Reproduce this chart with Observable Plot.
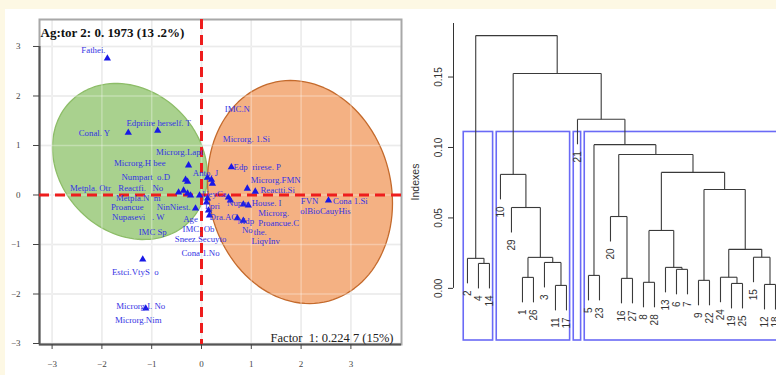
<!DOCTYPE html>
<html><head><meta charset="utf-8">
<script src="https://cdn.jsdelivr.net/npm/d3@7"></script>
<script src="https://cdn.jsdelivr.net/npm/@observablehq/plot@0.6"></script>
<style>
html,body{margin:0;padding:0;background:#fdf8e4;}
#wrap{position:relative;width:776px;height:375px;overflow:hidden;}
#panel{position:absolute;left:5px;top:9px;right:0;bottom:0;background:#fff;}
#left{position:absolute;left:0;top:0;}
#right{position:absolute;left:400px;top:0;width:376px;height:375px;overflow:hidden;}
</style></head><body>
<div id="wrap"><div id="panel"></div><div id="left"></div><div id="right"></div></div>
<script>
// ---------- factor map data ----------
const pointX = [-1.89,-1.47,-0.88,-0.26,-0.32,-0.28,0.12,0.20,0.22,-0.46,-0.36,-0.28,-0.22,-0.04,0.12,0.10,-0.12,0.14,0.16,0.54,0.58,0.72,0.84,0.60,0.92,1.08,0.84,0.94,2.55,-1.18,-1.12];
const pointY = [2.76,1.26,1.30,0.60,0.31,0.27,0.35,0.31,0.23,0.05,0.09,0.03,-0.01,-0.01,-0.07,-0.15,-0.27,-0.31,-0.41,-0.05,-0.11,-0.47,-0.52,0.56,0.13,0.07,-0.19,-0.21,-0.11,-1.30,-2.29];

const labelText = ["Fathei.","Conal. Y","Edpriire herself. T","Microrg.Lapt","Microrg.H bee","Numpart  o.D","Anto. J",
  "Metpla. Otr","Reactfi.   No","Metpla.N  m","Proancue","NinNiest.","Nupasevi   . W","IMC Sp","Age","IMC. Ob",
  "Sneez.Secuyto","Cona 1.No","Estci.VtyS  o","Microrg.I. No","Microrg.Nim","UeyCa","Lpri","Dra.AC","Mdp","No",
  "IMC.N","Microrg. 1.Si","Edp  rirese. P","Microrg.FMN","Reactti.Si","Nupas House. I","Microrg.","Proancue.C",
  "the.","LiqvInv","FVN","olBioCauyHis","Cona 1.Si"];
const labelX = [-2.17,-2.15,-0.86,-0.44,-1.24,-1.12,0.08,-2.23,-1.22,-1.27,-1.49,-0.56,-1.27,-0.98,-0.22,-0.06,
  -0.02,-0.02,-1.33,-1.22,-1.27,0.26,0.22,0.44,0.89,0.92,0.72,0.90,1.12,1.49,1.53,1.06,1.45,1.55,1.18,1.29,2.17,2.49,2.99];
const labelY = [2.92,1.24,1.46,0.86,0.64,0.37,0.45,0.13,0.13,-0.06,-0.25,-0.25,-0.44,-0.76,-0.49,-0.69,
  -0.89,-1.18,-1.55,-2.25,-2.52,0.01,-0.23,-0.44,-0.53,-0.71,1.73,1.12,0.56,0.29,0.09,-0.17,-0.37,-0.56,-0.76,-0.94,-0.13,-0.33,-0.13];

const xTicks = [-3,-2,-1,0,1,2,3];
const yTicks = [-3,-2,-1,0,1,2,3];
const axisTitleY = "Ag:tor 2: 0. 1973 (13 .2%)";
const axisTitleX = "Factor  1: 0.224 7 (15%)";

// confidence ellipses (centre, semi-extents, correlation)
const ellipseCx = [-1.436, 1.978];
const ellipseCy = [0.677, 0.06];
const ellipseAx = [1.556, 1.857];
const ellipseAy = [1.576, 2.253];
const ellipseRho = [-0.18, -0.10];
const ellipseFill = ["#a9d18e", "#f4b183"];
const ellipseStroke = ["#8dbd68", "#c46a2c"];

// ---------- dendrogram data ----------
const leafOrder = [2,4,14,10,29,1,26,3,11,17,21,5,23,20,16,27,8,28,13,6,7,9,22,24,19,25,15,12,18];
// R hclust style merges: negative = leaf label, positive = earlier merge row (1-based)
const mergeLeft  = [-11,-19,-12,-8,-9,-16,-1,-24,-5,-6,-13,-3,-4,-2, 7,-15, 8, 4,-20,-29, 5,-10,18,19, 9,-21,22,14];
const mergeRight = [-17,-25,-18,-28,-22,-27,-26, 2,-23,-7, 10, 1,-14,13,12,  3,16,11,  6, 15,17, 20,21,23,24, 25,26,27];
const mergeHeight = [0.0021,0.0035,0.0028,0.0043,0.0057,0.0071,0.0078,0.0079,0.0092,0.0135,0.0149,0.0184,0.0177,0.0213,
  0.0220,0.0221,0.0277,0.0411,0.0510,0.0574,0.0702,0.0809,0.0823,0.0950,0.1020,0.1200,0.1525,0.1794];
const clusterSizes = [3, 7, 1, 18];
const dendroTicks = [0, 0.05, 0.10, 0.15];
const dendroYLabel = "Indexes";

// ---------- left: factor map ----------
const xDom = [-3.253, 4.016], yDom = [-3.02, 3.545];
const points = pointX.map((x, i) => ({x, y: pointY[i]}));
const labels = labelText.map((t, i) => ({t, x: labelX[i], y: labelY[i]}));
function ellipse(k) {
  const r = ellipseRho[k], s = Math.sqrt(1 - r * r);
  return d3.range(0, 360, 3).map(a => {
    const t = a * Math.PI / 180;
    return {x: ellipseCx[k] + ellipseAx[k] * Math.cos(t),
            y: ellipseCy[k] + ellipseAy[k] * (r * Math.cos(t) + s * Math.sin(t))};
  });
}
const serif = "'Liberation Serif','Times New Roman',serif";
const left = Plot.plot({
  width: 402, height: 375, marginLeft: 39, marginRight: 1, marginTop: 19, marginBottom: 31,
  style: {background: "transparent", fontFamily: serif, color: "#444", overflow: "visible"},
  x: {domain: xDom, label: null}, y: {domain: yDom, label: null},
  marks: [
    Plot.ruleX(xTicks, {stroke: "#e3e3e3", strokeWidth: 1.5}),
    Plot.ruleY(yTicks, {stroke: "#e3e3e3", strokeWidth: 1.5}),
    ...[0, 1].map(k => Plot.line(ellipse(k), {x: "x", y: "y", fill: ellipseFill[k], stroke: ellipseStroke[k], strokeWidth: 1.3, curve: "linear-closed"})),
    Plot.ruleX(xTicks, {stroke: "#ffffff", strokeOpacity: 0.3, strokeWidth: 1.5}),
    Plot.ruleY(yTicks, {stroke: "#ffffff", strokeOpacity: 0.3, strokeWidth: 1.5}),
    Plot.frame({stroke: "#a8a8a8", strokeWidth: 2}),
    Plot.ruleX([xDom[0]], {y1: 3, y2: yDom[0], stroke: "#555", strokeWidth: 2}),
    Plot.ruleY([yDom[0]], {stroke: "#555", strokeWidth: 2}),
    Plot.ruleX([0], {stroke: "#ee1d1d", strokeWidth: 3, strokeDasharray: "10,6"}),
    Plot.ruleY([0], {stroke: "#ee1d1d", strokeWidth: 3, strokeDasharray: "10,6"}),
    Plot.axisX({ticks: xTicks, tickSize: 5, tickPadding: 11, fontSize: 9, tickFormat: d3.format("d"), label: null}),
    Plot.axisY({ticks: yTicks, tickSize: 6, tickPadding: 13, fontSize: 9, tickFormat: d3.format("d"), label: null}),
    Plot.dot(points, {x: "x", y: "y", symbol: "triangle", r: 2.7, fill: "#1818e6"}),
    Plot.text(labels, {x: "x", y: "y", text: "t", fill: "#3434e4", fontSize: 8.8, lineAnchor: "middle"}),
    Plot.text([axisTitleY], {frameAnchor: "top-left", dx: 1, dy: 13, textAnchor: "start", lineAnchor: "middle", fontWeight: "bold", fontSize: 13, fill: "#111"}),
    Plot.text([axisTitleX], {frameAnchor: "bottom-right", dx: -8, dy: -7, textAnchor: "end", lineAnchor: "middle", fontSize: 12.5, fill: "#222"})
  ]
});
document.getElementById("left").append(left);

// ---------- right: dendrogram ----------
const leafPos = new Map(leafOrder.map((l, i) => [l, i + 1]));
const hang = 0.1 * (d3.max(mergeHeight) - d3.min(mergeHeight));
const nodeX = [], segs = [], leafEnds = [];
mergeLeft.forEach((a, k) => {
  const b = mergeRight[k], h = mergeHeight[k];
  const child = c => c < 0 ? {x: leafPos.get(-c), y: h - hang, leaf: -c} : {x: nodeX[c - 1], y: mergeHeight[c - 1]};
  const A = child(a), B = child(b);
  nodeX[k] = (A.x + B.x) / 2;
  segs.push({x1: A.x, y1: A.y, x2: A.x, y2: h}, {x1: B.x, y1: B.y, x2: B.x, y2: h}, {x1: A.x, y1: h, x2: B.x, y2: h});
  [A, B].forEach(c => { if (c.leaf != null) leafEnds.push({x: c.x, y: c.y, label: String(c.leaf)}); });
});
const sortedH = [...mergeHeight].sort((p, q) => q - p);
const kClusters = clusterSizes.length;
const boxTop = (sortedH[kClusters - 2] + sortedH[kClusters - 1]) / 2;
const dxDom = [-0.27, 29], dyDom = [-0.037, 0.188];
let cum = 0;
const boxes = clusterSizes.map(s => { const b = {x1: cum + 0.66, x2: cum + s + 0.33}; cum += s; return b; });
const sans = "'Liberation Sans',Arial,sans-serif";
const right = Plot.plot({
  width: 376, height: 375, marginLeft: 53, marginRight: 1, marginTop: 23, marginBottom: 35,
  style: {background: "transparent", fontFamily: sans, color: "#333"},
  x: {domain: dxDom, axis: null}, y: {domain: dyDom, label: null},
  marks: [
    Plot.rect(boxes, {x1: "x1", x2: "x2", y1: dyDom[0], y2: boxTop, fill: "none", stroke: "#6a6af6", strokeWidth: 1.6}),
    Plot.link(segs, {x1: "x1", y1: "y1", x2: "x2", y2: "y2", stroke: "#3a3a3a", strokeWidth: 1.1}),
    Plot.ruleX([dxDom[0]], {y1: 0, y2: dyDom[1], stroke: "#333", strokeWidth: 1}),
    Plot.axisY({ticks: dendroTicks, tickSize: 5, tickFormat: () => "", label: null}),
    Plot.text(dendroTicks, {y: d => d, text: d3.format(".2f"), frameAnchor: "left", dx: -15, rotate: -90, textAnchor: "middle", lineAnchor: "middle", fontSize: 10, fill: "#333"}),
    Plot.text([dendroYLabel], {frameAnchor: "left", dx: -38, rotate: -90, textAnchor: "middle", lineAnchor: "middle", fontSize: 10.5, fill: "#333"}),
    Plot.text(leafEnds, {x: "x", y: "y", text: "label", rotate: -90, textAnchor: "end", lineAnchor: "middle", dy: 7, fontSize: 10, fill: "#333"})
  ]
});
document.getElementById("right").append(right);
</script>
</body></html>
